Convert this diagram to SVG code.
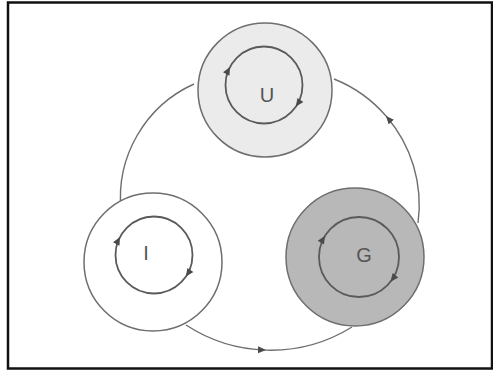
<svg xmlns="http://www.w3.org/2000/svg" width="493" height="370" viewBox="0 0 493 370">
<defs>
<marker id="ah" markerWidth="10" markerHeight="10" refX="8" refY="4" orient="auto" markerUnits="userSpaceOnUse">
<path d="M0,0.5 L8,4 L0,7.5 Z" fill="#4a4a4a"/>
</marker>
<path id="tri" d="M0,0 L-8,-3.6 L-8,3.6 Z" fill="#4a4a4a"/>
</defs>
<style>
.outer{stroke:#6e6e6e;stroke-width:1.5}
.inner{stroke:#5a5a5a;stroke-width:1.8;fill:none}
.conn{fill:none;stroke:#6e6e6e;stroke-width:1.4}
.lbl{font-family:"Liberation Sans",Arial,sans-serif;font-size:20px;fill:#555;text-anchor:middle}
</style>
<rect x="0" y="0" width="493" height="370" fill="#fff"/>
<rect x="8" y="2.5" width="484" height="366" fill="none" stroke="#111" stroke-width="2.5"/>
<g id="connectors">
<path class="conn" d="M194,84 A125,125 0 0 0 121,210" marker-end="url(#ah)"/>
<path class="conn" d="M186,325 A154.3,154.3 0 0 0 266,350.1" marker-end="url(#ah)"/>
<path class="conn" d="M266,350.1 A154.3,154.3 0 0 0 352,327"/>
<path class="conn" d="M418,223 A135.2,135.2 0 0 0 386,116" marker-end="url(#ah)"/>
<path class="conn" d="M386,116 A135.2,135.2 0 0 0 334,79"/>
</g>
<g id="node-U">
<circle class="outer" cx="265" cy="90" r="67" fill="#ebebeb"/>
<circle class="inner" cx="264" cy="85" r="38.5"/>
<use href="#tri" transform="translate(264,85) rotate(208) translate(38.5,0) rotate(90)"/>
<use href="#tri" transform="translate(264,85) rotate(34) translate(38.5,0) rotate(90)"/>
<text class="lbl" x="267" y="102">U</text>
</g>
<g id="node-I">
<circle class="outer" cx="153" cy="262" r="69" fill="#fff"/>
<circle class="inner" cx="154" cy="255" r="38.5"/>
<use href="#tri" transform="translate(154,255) rotate(208) translate(38.5,0) rotate(90)"/>
<use href="#tri" transform="translate(154,255) rotate(34) translate(38.5,0) rotate(90)"/>
<text class="lbl" x="146" y="260">I</text>
</g>
<g id="node-G">
<circle class="outer" cx="355" cy="257" r="69" fill="#b8b8b8"/>
<circle class="inner" cx="359" cy="257" r="40"/>
<use href="#tri" transform="translate(359,257) rotate(212) translate(40,0) rotate(90)"/>
<use href="#tri" transform="translate(359,257) rotate(38) translate(40,0) rotate(90)"/>
<text class="lbl" x="364" y="262">G</text>
</g>
</svg>
